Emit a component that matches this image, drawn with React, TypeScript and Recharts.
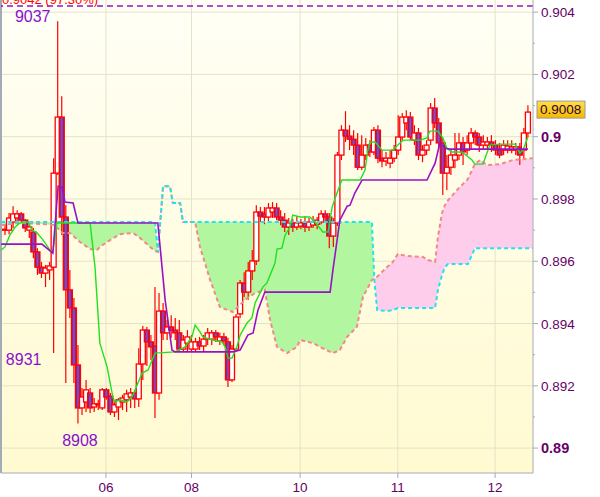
import {
  Area,
  Bar,
  CartesianGrid,
  ComposedChart,
  Line,
  ReferenceLine,
  Scatter,
  XAxis,
  YAxis,
} from 'recharts'

// hourly candles
const OPEN = [
  0.89703, 0.897, 0.89726, 0.89739, 0.89752, 0.89732, 0.897, 0.89694, 0.8963, 0.89581,
  0.89562, 0.89572, 0.89581, 0.89883, 0.90063, 0.89742, 0.89508, 0.8945, 0.89267, 0.89129,
  0.89148, 0.89177, 0.89132, 0.89139, 0.89129, 0.89187, 0.89167, 0.89116, 0.89132, 0.89148,
  0.89155, 0.89164, 0.89177, 0.89158, 0.8927, 0.89379, 0.89341, 0.89328, 0.89177, 0.8944,
  0.8937, 0.89389, 0.89379, 0.8937, 0.89318, 0.89337, 0.89318, 0.89318, 0.89341, 0.89328,
  0.8935, 0.8935, 0.8937, 0.89344, 0.89357, 0.89341, 0.89219, 0.89318, 0.89431, 0.8953,
  0.89501, 0.89569, 0.89601, 0.89758, 0.89752, 0.89742, 0.89758, 0.89771, 0.89742, 0.89732,
  0.8971, 0.89723, 0.8971, 0.89713, 0.89723, 0.8971, 0.89716, 0.89719, 0.89726, 0.89752,
  0.89742, 0.89681, 0.89723, 0.89941, 0.90021, 0.90002, 0.89992, 0.89973, 0.89902, 0.89941,
  0.89973, 0.89951, 0.90021, 0.89931, 0.89922, 0.89915, 0.89931, 0.89957, 0.89999, 0.90044,
  0.90063, 0.89989, 0.90012, 0.89941, 0.89957, 0.89989, 0.90092, 0.90044, 0.8998, 0.89883,
  0.89902, 0.89925, 0.89941, 0.8998, 0.89957, 0.8998, 0.90012, 0.89999, 0.89973, 0.89973,
  0.89983, 0.89973, 0.89957, 0.89957, 0.89957, 0.89957, 0.89957, 0.89967, 0.89957, 0.90012,
]
const HIGH = [
  0.89719, 0.89755, 0.89777, 0.89764, 0.89758, 0.89736, 0.89719, 0.89707, 0.89642, 0.89598,
  0.89588, 0.89598, 0.89931, 0.90371, 0.9013, 0.8978, 0.89572, 0.89482, 0.89331, 0.89193,
  0.89219, 0.89193, 0.89161, 0.89155, 0.89193, 0.89193, 0.89177, 0.89148, 0.89161, 0.89171,
  0.89187, 0.89193, 0.89187, 0.89321, 0.89392, 0.89389, 0.89363, 0.89517, 0.89498, 0.89466,
  0.89411, 0.89427, 0.89418, 0.89411, 0.89363, 0.89379, 0.89363, 0.89354, 0.89357, 0.89363,
  0.89386, 0.89379, 0.89379, 0.8937, 0.8937, 0.89354, 0.89331, 0.89431, 0.8954, 0.89565,
  0.89598, 0.89636, 0.8978, 0.89774, 0.89774, 0.89787, 0.8979, 0.89787, 0.89764, 0.89755,
  0.89739, 0.89736, 0.89745, 0.89736, 0.89745, 0.89739, 0.89745, 0.89742, 0.89764, 0.89764,
  0.89755, 0.89739, 0.89951, 0.90037, 0.90082, 0.90037, 0.90021, 0.90012, 0.90005, 0.89996,
  0.89989, 0.90031, 0.90037, 0.89957, 0.89951, 0.89957, 0.89973, 0.90069, 0.90076, 0.90085,
  0.90079, 0.90037, 0.90028, 0.89973, 0.89989, 0.90108, 0.90124, 0.9006, 0.89996, 0.89941,
  0.89957, 0.90012, 0.90012, 0.89999, 0.90005, 0.90028, 0.90021, 0.90012, 0.90005, 0.89999,
  0.90005, 0.89989, 0.8998, 0.89989, 0.89989, 0.89989, 0.8998, 0.8998, 0.90028, 0.90101,
]
const LOW = [
  0.89684, 0.89687, 0.89707, 0.89726, 0.89726, 0.89694, 0.89675, 0.8961, 0.89556, 0.89546,
  0.89517, 0.8954, 0.89305, 0.89877, 0.89684, 0.89209, 0.89418, 0.89209, 0.89079, 0.89106,
  0.89116, 0.89113, 0.89116, 0.89122, 0.89122, 0.89155, 0.89106, 0.891, 0.8909, 0.89122,
  0.89116, 0.89129, 0.89129, 0.89132, 0.89219, 0.89264, 0.89283, 0.89097, 0.89155, 0.89347,
  0.89347, 0.89354, 0.89347, 0.89312, 0.89309, 0.89309, 0.89309, 0.89309, 0.89315, 0.89309,
  0.89331, 0.89331, 0.89341, 0.89331, 0.89331, 0.89196, 0.89212, 0.89309, 0.89418, 0.89485,
  0.89476, 0.8954, 0.89588, 0.89726, 0.89719, 0.89726, 0.89739, 0.89732, 0.89716, 0.89694,
  0.89684, 0.89694, 0.897, 0.89703, 0.89694, 0.89697, 0.89707, 0.89703, 0.89719, 0.89726,
  0.89642, 0.89646, 0.89713, 0.89925, 0.89983, 0.89957, 0.89941, 0.89893, 0.89893, 0.89925,
  0.89935, 0.89941, 0.89915, 0.89902, 0.89906, 0.89899, 0.89918, 0.89941, 0.89989, 0.90021,
  0.89989, 0.89973, 0.89925, 0.89918, 0.89941, 0.89973, 0.90028, 0.89963, 0.89813, 0.89829,
  0.89877, 0.89899, 0.89925, 0.89909, 0.89941, 0.89957, 0.89973, 0.89951, 0.89957, 0.89957,
  0.89951, 0.89941, 0.89931, 0.89941, 0.89947, 0.89947, 0.89941, 0.89909, 0.89925, 0.89999,
]
const CLOSE = [
  0.897, 0.89739, 0.89752, 0.89752, 0.89732, 0.89707, 0.8971, 0.8963, 0.89581, 0.89562,
  0.89578, 0.89585, 0.89883, 0.90063, 0.89742, 0.89508, 0.8945, 0.89267, 0.89129, 0.89164,
  0.89187, 0.89129, 0.89142, 0.89142, 0.89187, 0.89164, 0.89116, 0.89139, 0.89155, 0.89161,
  0.89174, 0.89177, 0.89158, 0.8927, 0.89379, 0.89341, 0.89325, 0.89177, 0.8944, 0.8937,
  0.89389, 0.89379, 0.8937, 0.89318, 0.89347, 0.89357, 0.89341, 0.89341, 0.89328, 0.8935,
  0.8937, 0.8937, 0.89357, 0.89357, 0.89344, 0.89219, 0.89318, 0.89421, 0.8953, 0.89501,
  0.89569, 0.89601, 0.89758, 0.89745, 0.89742, 0.89771, 0.89771, 0.89742, 0.89732, 0.8971,
  0.89723, 0.8971, 0.89723, 0.89723, 0.8971, 0.89726, 0.89726, 0.89732, 0.89752, 0.89742,
  0.89681, 0.89723, 0.89941, 0.90021, 0.90002, 0.89992, 0.89973, 0.89902, 0.89941, 0.89973,
  0.89951, 0.90021, 0.89931, 0.89922, 0.89931, 0.89931, 0.89957, 0.89999, 0.90063, 0.90063,
  0.89999, 0.90012, 0.89941, 0.89957, 0.89973, 0.90092, 0.90044, 0.8998, 0.89883, 0.89902,
  0.89941, 0.89941, 0.8998, 0.89951, 0.8998, 0.90012, 0.89999, 0.89973, 0.89983, 0.89983,
  0.89973, 0.89957, 0.89941, 0.89973, 0.8997, 0.89967, 0.89967, 0.89941, 0.90012, 0.90079,
]

// ichimoku lines (bar index, price)
const TENKAN_X = [
  -0.95, 0, 1.2, 2.5, 3.7, 5.7, 6.7, 7.9, 9.4, 11.1, 11.8, 12.8, 21, 22.2, 23.4, 25.2, 26.6, 27.1,
  28.4, 30.1, 31.3, 32.1, 33.8, 35.3, 37, 41.9, 44.4, 46.1, 46.9, 48.1, 48.8, 51.1, 53.5, 54.3, 55,
  56, 57.2, 58, 59.7, 60.9, 61.7, 63.6, 64.6, 66.6, 67.1, 68.3, 69.1, 70.3, 71, 72.8, 75.2, 76.5,
  78.4, 79.7, 80.7, 81.9, 83.1, 87.6, 88.8, 89.5, 90, 91.3, 93, 95.7, 96.9, 98.2, 102.4, 104.1,
  104.8, 106.8, 108, 109, 110.3, 112.7, 115.2, 115.9, 117.9, 119.6, 122.1, 125.8, 127, 127.8, 129,
]
const TENKAN = [
  0.89636, 0.89646, 0.89684, 0.8971, 0.89723, 0.89726, 0.897, 0.89691, 0.89668, 0.89636, 0.8963,
  0.89723, 0.89723, 0.89581, 0.89337, 0.8926, 0.89164, 0.89148, 0.89155, 0.89148, 0.89164, 0.89187,
  0.89241, 0.89251, 0.89305, 0.89309, 0.89325, 0.89357, 0.89395, 0.89373, 0.89357, 0.89347, 0.89341,
  0.89325, 0.89289, 0.89289, 0.89325, 0.89363, 0.89402, 0.89418, 0.89466, 0.89517, 0.8953, 0.89594,
  0.89639, 0.89642, 0.89684, 0.8971, 0.89748, 0.89742, 0.89742, 0.89726, 0.89694, 0.89694, 0.89774,
  0.89819, 0.89861, 0.89861, 0.89893, 0.89957, 0.89983, 0.89983, 0.89957, 0.89957, 0.89973, 0.89989,
  0.89989, 0.89996, 0.90018, 0.90018, 0.89996, 0.89963, 0.89951, 0.89951, 0.89925, 0.89912, 0.89912,
  0.89973, 0.89976, 0.89976, 0.89947, 0.89957, 0.89999,
]
const KIJUN_X = [
  -0.95, 9.1, 11.8, 13.1, 14.1, 14.8, 16.8, 18, 37.7, 39.5, 41.2, 41.9, 56.2, 58, 59.9, 61.2, 62.4,
  64.1, 80.2, 80.9, 82.6, 84.4, 85.1, 86.3, 88.1, 104.1, 106.1, 107.3, 108.5, 109.8, 129,
]
const KIJUN = [
  0.89655, 0.89655, 0.89626, 0.89841, 0.89838, 0.8979, 0.89787, 0.89723, 0.89723, 0.89476, 0.89315,
  0.89309, 0.89309, 0.89315, 0.89363, 0.8937, 0.89443, 0.89501, 0.89501, 0.89572, 0.89732, 0.89777,
  0.8978, 0.89819, 0.89861, 0.89861, 0.89915, 0.8998, 0.89963, 0.8996, 0.8996,
]
const CLOUD_X = [
  -0.95, 3.7, 9.9, 12.3, 14.1, 16, 18.5, 21, 22.7, 23.4, 25.9, 28.4, 31.6, 33.3, 35.8, 37, 37.7, 39,
  40.7, 41.4, 43.2, 43.9, 46.9, 48.1, 50.6, 53, 56.2, 59.2, 61.7, 64.1, 65.4, 67.1, 69.6, 72, 72.8,
  76, 77.7, 80.9, 82.6, 84.4, 86.8, 88.3, 90.5, 91.1, 91.8, 94.2, 95.7, 96.9, 99.2, 103.1, 104.3,
  106.1, 106.8, 107.8, 108.5, 109.3, 111.5, 114, 114.2, 115.9, 117.2, 118.9, 122.1, 125.3, 130.2,
]
const SPAN_A = [
  0.89716, 0.89723, 0.89719, 0.89716, 0.89691, 0.89691, 0.89662, 0.89639, 0.89636, 0.89646, 0.89668,
  0.89687, 0.89691, 0.89675, 0.89646, 0.89633, 0.8963, 0.89841, 0.89841, 0.89787, 0.89787, 0.89726,
  0.89726, 0.89646, 0.8954, 0.89453, 0.89437, 0.89476, 0.89498, 0.89508, 0.89411, 0.89325, 0.89305,
  0.89325, 0.89347, 0.89337, 0.89325, 0.89305, 0.89315, 0.89357, 0.89389, 0.89485, 0.8954, 0.89543,
  0.8955, 0.89581, 0.89598, 0.89623, 0.89617, 0.89614, 0.89604, 0.89598, 0.89678, 0.89755, 0.8978,
  0.89796, 0.89829, 0.89861, 0.89865, 0.89912, 0.89925, 0.89909, 0.89912, 0.89925, 0.89931,
]
const SPAN_B = [
  0.89726, 0.89726, 0.89726, 0.89726, 0.89726, 0.89726, 0.89726, 0.89726, 0.89726, 0.89726, 0.89726,
  0.89726, 0.89726, 0.89726, 0.89726, 0.89726, 0.8963, 0.89841, 0.89841, 0.89787, 0.89787, 0.89726,
  0.89726, 0.89726, 0.89726, 0.89726, 0.89726, 0.89726, 0.89726, 0.89726, 0.89726, 0.89726, 0.89726,
  0.89726, 0.89726, 0.89726, 0.89726, 0.89726, 0.89726, 0.89726, 0.89726, 0.89726, 0.89726, 0.89543,
  0.89443, 0.8944, 0.89443, 0.8945, 0.8945, 0.8945, 0.8945, 0.8945, 0.89508, 0.89556, 0.89581,
  0.89591, 0.89591, 0.89591, 0.89591, 0.89642, 0.89642, 0.89642, 0.89642, 0.89642, 0.89642,
]

const DAY_TICKS = [24.9, 46.0, 72.8, 96.9, 120.9]
const DAY_LABELS = ['06', '08', '10', '11', '12']
const Y_MAJOR = [0.89, 0.892, 0.894, 0.896, 0.898, 0.9, 0.902, 0.904]
const Y_MINOR = [0.891, 0.893, 0.895, 0.897, 0.899, 0.901, 0.903]
const Y_BOLD = [0.89, 0.9]

const TARGET_LEVEL = 0.9042
const TARGET_TEXT = '0.9042 (97.30%)'
const MARK_BARS = [13, 12, 18]
const MARK_SIDE = ['high', 'low', 'low']
const MARK_TEXT = ['9037', '8931', '8908']

const X_MIN = -0.99
const X_MAX = 130.25
const Y_MIN = 0.8892
const Y_MAX = 0.90439

const AXIS = '#a2acb6'
const GRID = '#e3e3c8'
const INK = '#660066'
const FONT = '"Liberation Sans", Arial, sans-serif'

const candles = OPEN.map((open, i) => ({
  x: i,
  open,
  high: HIGH[i],
  low: LOW[i],
  close: CLOSE[i],
}))
const tenkanData = TENKAN_X.map((x, i) => ({ x, v: TENKAN[i] }))
const kijunData = KIJUN_X.map((x, i) => ({ x, v: KIJUN[i] }))
const cloudData = CLOUD_X.map((x, i) => ({ x, a: SPAN_A[i], b: SPAN_B[i] }))
const markData = MARK_BARS.map((b, i) => ({
  x: b,
  y: MARK_SIDE[i] === 'high' ? HIGH[b] : LOW[b],
  text: MARK_TEXT[i],
}))
const markOffsets = [
  [-25, 1],
  [-30, 12],
  [2, 23],
]

const near = (list: number[], v: number) => list.some((m) => Math.abs(m - v) < 1e-7)

function Candle(props: any) {
  const { x, y, width, height, payload } = props
  const top = Math.min(y, y + height)
  const bottom = Math.max(y, y + height)
  const span = payload.high - payload.low
  const k = span > 0 ? (bottom - top) / span : 0
  const py = (v: number) => top + (payload.high - v) * k
  const cx = x + width / 2
  const oy = py(payload.open)
  const cy = py(payload.close)
  const bull = payload.close >= payload.open
  const bt = Math.min(oy, cy)
  const bh = Math.max(Math.abs(oy - cy), 1)
  return (
    <g>
      <line x1={cx} x2={cx} y1={top} y2={bottom} stroke="#ff0000" strokeWidth={1.2} />
      <rect
        x={cx - 2.5}
        y={bt}
        width={5}
        height={bh}
        fill={bull ? '#ffffff' : 'url(#bearFill)'}
        stroke="#ff0000"
        strokeWidth={1.3}
      />
    </g>
  )
}

function PriceTick(props: any) {
  const { x, y, payload } = props
  const v = payload.value as number
  const major = near(Y_MAJOR, v)
  const bold = near(Y_BOLD, v)
  return (
    <g>
      <line x1={x} x2={x + (major ? 5 : 2)} y1={y} y2={y} stroke={AXIS} />
      {major && (
        <text
          x={x + 8}
          y={y + 5}
          fill={INK}
          fontSize={bold ? 14.5 : 13.5}
          fontWeight={bold ? 700 : 400}
          fontFamily={FONT}
        >
          {String(Number(v.toFixed(3)))}
        </text>
      )}
    </g>
  )
}

function DayTick(props: any) {
  const { x, y, payload } = props
  return (
    <g>
      <line x1={x} x2={x} y1={y} y2={y + 5} stroke={AXIS} />
      <text x={x} y={y + 19} textAnchor="middle" fill={INK} fontSize={13.5} fontFamily={FONT}>
        {DAY_LABELS[payload.index]}
      </text>
    </g>
  )
}

function MarkLabel(props: any) {
  const { cx, cy, index } = props
  const [dx, dy] = markOffsets[index] ?? [0, 0]
  return (
    <text x={cx + dx} y={cy + dy} textAnchor="middle" fill="#8a10d0" fontSize={16} fontFamily={FONT}>
      {props.payload.text}
    </text>
  )
}

function LastPriceBox(props: any) {
  const vb = props.viewBox ?? {}
  const x = (vb.x ?? 0) + (vb.width ?? 0) + 4
  const y = vb.y ?? 0
  return (
    <g>
      <rect x={x} y={y - 11} width={48} height={17} fill="url(#goldFill)" stroke="#9a9a9a" />
      <text x={x + 3} y={y + 2} fill="#330033" fontSize={13.5} fontFamily={FONT}>
        {CLOSE[CLOSE.length - 1].toFixed(4)}
      </text>
    </g>
  )
}

function TargetText(props: any) {
  const vb = props.viewBox ?? {}
  return (
    <text x={(vb.x ?? 0) + 1} y={(vb.y ?? 0) - 2} fill="#ff0000" fontSize={13} fontFamily={FONT}>
      {TARGET_TEXT}
    </text>
  )
}

export default function App() {
  return (
    <div style={{ position: 'absolute', left: 0, top: 0, background: '#fff' }}>
      <ComposedChart
        width={600}
        height={497}
        data={candles}
        margin={{ top: 0, right: 0, bottom: 0, left: 1 }}
      >
        <defs>
          <linearGradient id="plotBg" x1="0" y1="0" x2="0" y2="1">
            <stop offset="0%" stopColor="#fffff6" />
            <stop offset="100%" stopColor="#fffad0" />
          </linearGradient>
          <linearGradient id="bearFill" x1="0" y1="0" x2="1" y2="0">
            <stop offset="0%" stopColor="#5e1870" />
            <stop offset="50%" stopColor="#a646c0" />
            <stop offset="100%" stopColor="#5e1870" />
          </linearGradient>
          <linearGradient id="goldFill" x1="0" y1="0" x2="0" y2="1">
            <stop offset="0%" stopColor="#ffe04a" />
            <stop offset="100%" stopColor="#f4b800" />
          </linearGradient>
        </defs>
        <CartesianGrid
          stroke={GRID}
          fill="url(#plotBg)"
          horizontalValues={Y_MAJOR}
          verticalValues={DAY_TICKS}
        />
        <XAxis
          type="number"
          dataKey="x"
          domain={[X_MIN, X_MAX]}
          ticks={DAY_TICKS}
          interval={0}
          tick={<DayTick />}
          tickLine={false}
          tickSize={0}
          tickMargin={0}
          axisLine={{ stroke: AXIS }}
          height={24}
        />
        <YAxis
          orientation="right"
          type="number"
          domain={[Y_MIN, Y_MAX]}
          ticks={[...Y_MAJOR, ...Y_MINOR].sort((a, b) => a - b)}
          interval={0}
          tick={<PriceTick />}
          tickLine={false}
          tickSize={0}
          tickMargin={0}
          axisLine={{ stroke: AXIS }}
          width={67}
        />
        <ReferenceLine x={X_MIN} stroke={AXIS} strokeWidth={2} />
        <Area
          data={cloudData}
          dataKey={(d: any) => (d.b >= d.a ? [d.a, d.b] : null)}
          type="linear"
          stroke="none"
          fill="#b2f7a0"
          fillOpacity={1}
          isAnimationActive={false}
        />
        <Area
          data={cloudData}
          dataKey={(d: any) => (d.a >= d.b ? [d.b, d.a] : null)}
          type="linear"
          stroke="none"
          fill="#ffcdec"
          fillOpacity={1}
          isAnimationActive={false}
        />
        <Line
          data={cloudData}
          dataKey="a"
          type="linear"
          stroke="#f38888"
          strokeWidth={2}
          strokeDasharray="4 3"
          dot={false}
          isAnimationActive={false}
        />
        <Line
          data={cloudData}
          dataKey="b"
          type="linear"
          stroke="#22e4f0"
          strokeWidth={2}
          strokeDasharray="4 3"
          dot={false}
          isAnimationActive={false}
        />
        <Bar
          dataKey={(d: any) => [d.low, d.high]}
          barSize={5}
          shape={<Candle />}
          isAnimationActive={false}
        />
        <Line
          data={tenkanData}
          dataKey="v"
          type="linear"
          stroke="#22e022"
          strokeWidth={1.4}
          dot={false}
          isAnimationActive={false}
        />
        <Line
          data={kijunData}
          dataKey="v"
          type="linear"
          stroke="#9a10c8"
          strokeWidth={1.6}
          dot={false}
          isAnimationActive={false}
        />
        <ReferenceLine
          y={TARGET_LEVEL}
          stroke="#9a10c8"
          strokeWidth={1.5}
          strokeDasharray="6 4"
          label={<TargetText />}
        />
        <ReferenceLine y={CLOSE[CLOSE.length - 1]} stroke="none" label={<LastPriceBox />} />
        <Scatter data={markData} dataKey="y" shape={<MarkLabel />} isAnimationActive={false} />
      </ComposedChart>
    </div>
  )
}
